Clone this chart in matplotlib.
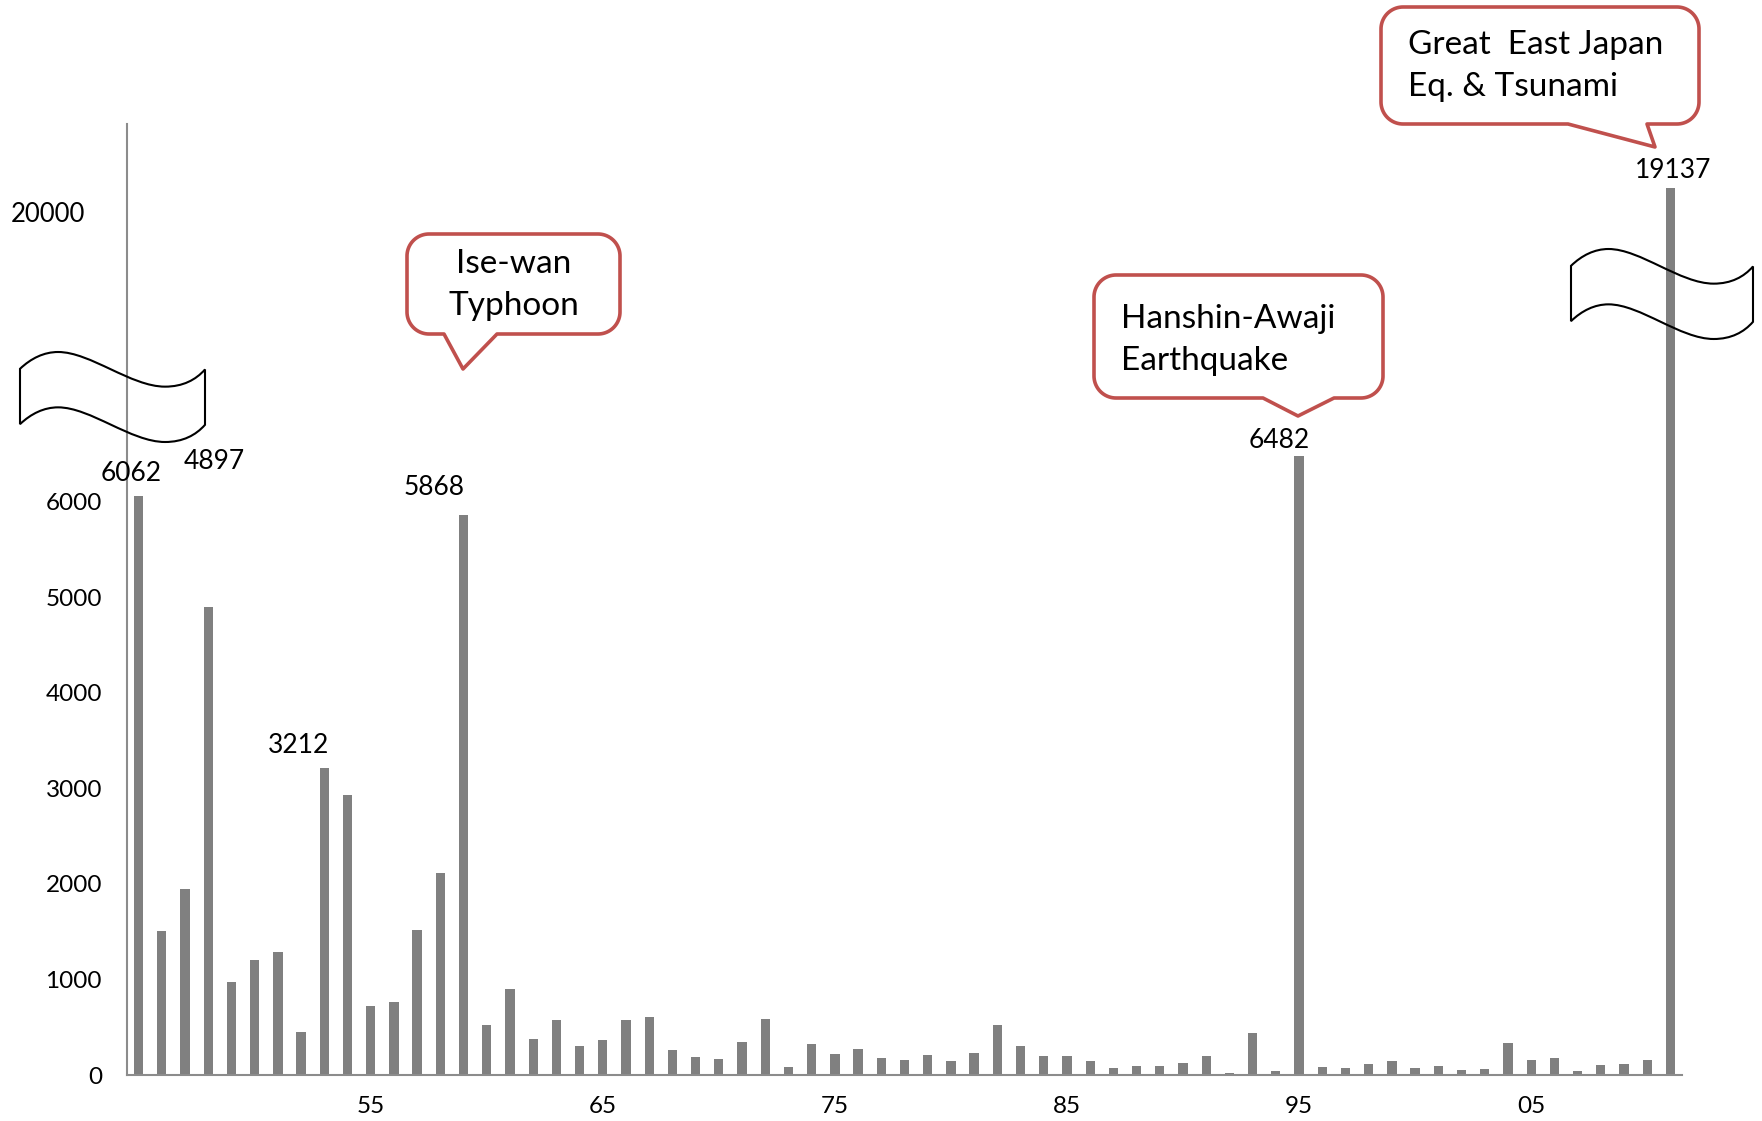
import numpy as np
import matplotlib.pyplot as plt
from matplotlib.path import Path
from matplotlib.patches import PathPatch
from matplotlib.transforms import Affine2D

plt.rcParams['font.family'] = ['Lato', 'DejaVu Sans']

# Disaster deaths per year, 1945-2011
years = np.arange(1945, 2012)
deaths = [6062, 1503, 1943, 4897, 972, 1209, 1289, 448, 3212, 2927,
          727, 765, 1515, 2119, 5868, 528, 903, 379, 574, 307,
          366, 578, 606, 258, 185, 164, 348, 585, 84, 328,
          216, 272, 174, 153, 206, 150, 233, 523, 300, 199,
          199, 150, 70, 94, 99, 128, 196, 21, 445, 39,
          6482, 85, 71, 114, 146, 78, 93, 50, 68, 335,
          153, 181, 39, 103, 117, 153, 19137]

label_years = [1945, 1948, 1953, 1959, 1995, 2011]
tick_years = [1955, 1965, 1975, 1985, 1995, 2005]
tick_labels = ['55', '65', '75', '85', '95', '05']
y_ticks = [0, 1000, 2000, 3000, 4000, 5000, 6000]

# label offsets in pixels (placed by hand in the original)
label_offsets = {1945: (-7, 23), 1948: (6, 146), 1953: (-26, 23),
                 1959: (-29, 27), 1995: (-20, 15), 2011: (3, 17)}

W, H = 1762, 1121
BREAK = 7000
K = 0.1885


def forward(v):
    v = np.asarray(v, dtype=float)
    return np.where(v <= BREAK, v, BREAK + (v - BREAK) * K)


def inverse(t):
    t = np.asarray(t, dtype=float)
    return np.where(t <= BREAK, t, BREAK + (t - BREAK) / K)


fig = plt.figure(figsize=(W / 100, H / 100), dpi=100)
ax = fig.add_axes([127 / W, 1 - 1075 / H, (1682 - 127) / W, (1075 - 124) / H])

ax.bar(years, deaths, width=0.4, color='#808080', zorder=2)
ax.set_yscale('function', functions=(forward, inverse))
ax.set_xlim(1944.5, 2011.5)
ax.set_ylim(0, 22692)

ax.set_yticks(y_ticks)
ax.set_yticklabels([str(v) for v in y_ticks])
ax.set_xticks(tick_years)
ax.set_xticklabels(tick_labels)
ax.tick_params(axis='both', length=0, labelsize=17.5)
ax.tick_params(axis='y', pad=18)
ax.tick_params(axis='x', pad=15)
ax.yaxis.set_minor_locator(plt.NullLocator())

for side in ['top', 'right']:
    ax.spines[side].set_visible(False)
for side in ['left', 'bottom']:
    ax.spines[side].set_color('#8c8c8c')
    ax.spines[side].set_linewidth(1.5)

vals = dict(zip(years, deaths))
for yr in label_years:
    dx, dy = label_offsets[yr]
    ax.annotate(str(vals[yr]), xy=(yr, vals[yr]), xytext=(dx, dy),
                textcoords='offset pixels', ha='center', va='center',
                fontsize=19)

# pixel coordinates measured from the top-left corner of the image
T = Affine2D().scale(1 / W, -1 / H).translate(0, 1) + fig.transFigure

fig.text(85, 215, '20000', transform=T, ha='right', va='center', fontsize=18.5)


def wave(x0, y0, w, h):
    top = [(0, 0.187), (0.06, 0.07), (0.13, 0.0), (0.206, 0.0),
           (0.38, 0.0), (0.60, 0.385), (0.784, 0.385),
           (0.88, 0.385), (0.95, 0.31), (1.0, 0.194)]
    bot = [(1.0, 0.809), (0.95, 0.925), (0.88, 1.0), (0.784, 1.0),
           (0.60, 1.0), (0.38, 0.615), (0.206, 0.615),
           (0.13, 0.615), (0.06, 0.685), (0.0, 0.802)]
    pts = top + bot + [(0, 0)]
    codes = ([Path.MOVETO] + [Path.CURVE4] * 9 + [Path.LINETO]
             + [Path.CURVE4] * 9 + [Path.CLOSEPOLY])
    verts = [(x0 + u * w, y0 + v * h) for u, v in pts]
    fig.patches.append(PathPatch(Path(verts, codes), transform=T,
                                 facecolor='none', edgecolor='black', lw=1.5))


def callout(x0, y0, x1, y1, r, base_a, base_b, tip):
    def arc(cx, cy, t0, t1):
        t = np.linspace(t0, t1, 20)
        return list(zip(cx + r * np.cos(t), cy + r * np.sin(t)))
    pts = []
    pts += arc(x1 - r, y0 + r, -np.pi / 2, 0)
    pts += arc(x1 - r, y1 - r, 0, np.pi / 2)
    pts += [(base_b, y1), tip, (base_a, y1)]
    pts += arc(x0 + r, y1 - r, np.pi / 2, np.pi)
    pts += arc(x0 + r, y0 + r, np.pi, 1.5 * np.pi)
    pts.append(pts[0])
    fig.patches.append(PathPatch(Path(pts, closed=True), transform=T,
                                 facecolor='white', edgecolor='#C0504D',
                                 lw=2.6, joinstyle='round'))


wave(20, 352, 185, 90)
wave(1571, 249, 182, 90)

callout(407, 234, 620, 334, 22, 444, 497, (463, 369))
fig.text(514, 285, 'Ise-wan\nTyphoon', transform=T, ha='center',
         va='center', fontsize=24, linespacing=1.5)

callout(1094, 275, 1383, 398, 22, 1263, 1334, (1298, 416))
fig.text(1121, 340, 'Hanshin-Awaji\nEarthquake', transform=T, ha='left',
         va='center', fontsize=24, linespacing=1.5)

callout(1381, 7, 1699, 124, 22, 1568, 1647, (1655, 147))
fig.text(1408, 66, 'Great  East Japan\nEq. & Tsunami', transform=T,
         ha='left', va='center', fontsize=24, linespacing=1.5)

fig.savefig('out.png', dpi=100)
